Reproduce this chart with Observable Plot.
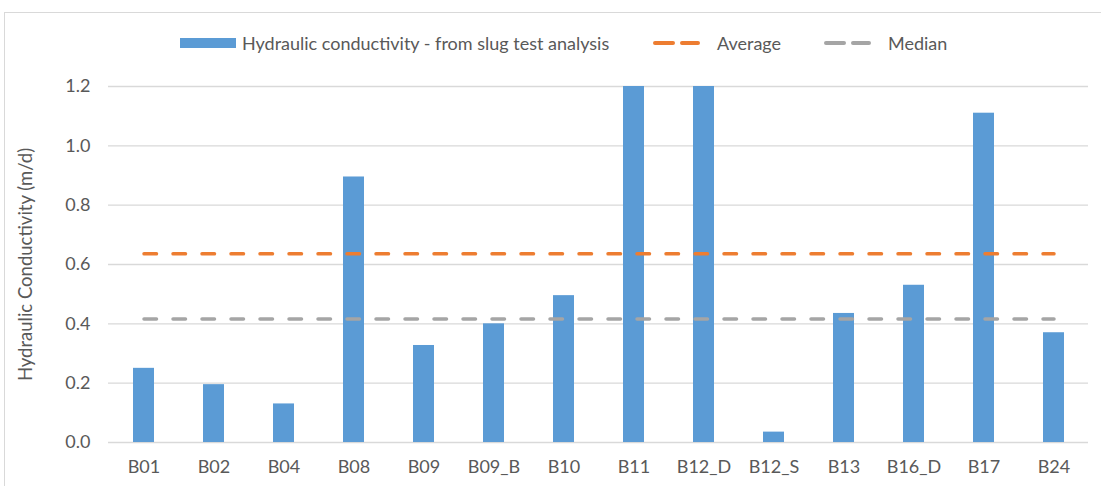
<!DOCTYPE html>
<html><head><meta charset="utf-8">
<script src="https://cdn.jsdelivr.net/npm/d3@7"></script>
<script src="https://cdn.jsdelivr.net/npm/@observablehq/plot@0.6"></script>
<style>
body{margin:0;background:#fff;font-family:Lato,"Open Sans",sans-serif;}
#frame{position:absolute;left:4px;top:12px;width:1120px;height:500px;border:1px solid #D9D9D9;box-sizing:border-box;}
#legend{position:absolute;left:0;top:0;}
#chart{position:absolute;left:0;top:60px;}
</style></head>
<body>
<div id="frame"></div>
<div id="legend"></div>
<div id="chart"></div>
<script>
const categories = ["B01","B02","B04","B08","B09","B09_B","B10","B11","B12_D","B12_S","B13","B16_D","B17","B24"];
const conductivity = [0.25,0.195,0.13,0.895,0.327,0.40,0.495,1.86,1.86,0.035,0.435,0.53,1.11,0.37];
const average = 0.636;
const median = 0.416;
const yTicks = [0,0.2,0.4,0.6,0.8,1.0,1.2];
const seriesNames = ["Hydraulic conductivity - from slug test analysis","Average","Median"];
const colors = {bar:"#5B9BD5", avg:"#ED7D31", med:"#A5A5A5", grid:"#D9D9D9", text:"#595959"};
const font = "Lato, 'Open Sans', sans-serif";

const data = categories.map((c,i)=>({cat:c, v:conductivity[i]}));

const plot = Plot.plot({
  width:1101, height:426,
  marginTop:26, marginBottom:44, marginLeft:108, marginRight:13,
  style:{fontFamily:font, fontSize:"18px", color:colors.text, background:"transparent"},
  x:{domain:categories, paddingInner:0.7, paddingOuter:0.35, label:null},
  y:{domain:[0,1.2], label:null},
  marks:[
    Plot.gridY(yTicks,{stroke:colors.grid, strokeOpacity:1, strokeWidth:1.3}),
    Plot.barY(data,{x:"cat", y:"v", fill:colors.bar, clip:true}),
    Plot.lineY(categories,{x:d=>d, y:()=>average, stroke:colors.avg, strokeWidth:3.5, strokeDasharray:"12.5,16.5", strokeLinecap:"round"}),
    Plot.lineY(categories,{x:d=>d, y:()=>median, stroke:colors.med, strokeWidth:3.5, strokeDasharray:"12.5,16.5", strokeLinecap:"round"}),
    Plot.axisX({tickSize:0, tickPadding:18, fontSize:18, fill:colors.text, label:null}),
    Plot.axisY({ticks:yTicks, tickFormat:d=>d.toFixed(1), tickSize:0, tickPadding:18, fontSize:18, fill:colors.text, label:null}),
    Plot.text(["Hydraulic Conductivity (m/d)"],{frameAnchor:"left", textAnchor:"middle", dx:-82, rotate:-90, fontSize:18.5, fill:colors.text})
  ]
});
document.getElementById("chart").appendChild(plot);

// legend (real text in a small svg above the chart)
const ns = "http://www.w3.org/2000/svg";
const lg = document.createElementNS(ns,"svg");
lg.setAttribute("width",1101); lg.setAttribute("height",60);
lg.setAttribute("font-family",font); lg.setAttribute("font-size","18");
function el(tag, attrs, txt){const e=document.createElementNS(ns,tag);for(const k in attrs)e.setAttribute(k,attrs[k]);if(txt)e.textContent=txt;lg.appendChild(e);return e;}
el("rect",{x:180,y:38,width:56,height:10,fill:colors.bar});
el("text",{x:242,y:43,"dominant-baseline":"central",fill:colors.text},seriesNames[0]);
el("line",{x1:655,x2:698,y1:43,y2:43,stroke:colors.avg,"stroke-width":4,"stroke-dasharray":"18,9","stroke-linecap":"round"});
el("text",{x:717,y:43,"dominant-baseline":"central",fill:colors.text},seriesNames[1]);
el("line",{x1:826,x2:869,y1:43,y2:43,stroke:colors.med,"stroke-width":4,"stroke-dasharray":"18,9","stroke-linecap":"round"});
el("text",{x:888,y:43,"dominant-baseline":"central",fill:colors.text},seriesNames[2]);
document.getElementById("legend").appendChild(lg);
</script>
</body></html>
